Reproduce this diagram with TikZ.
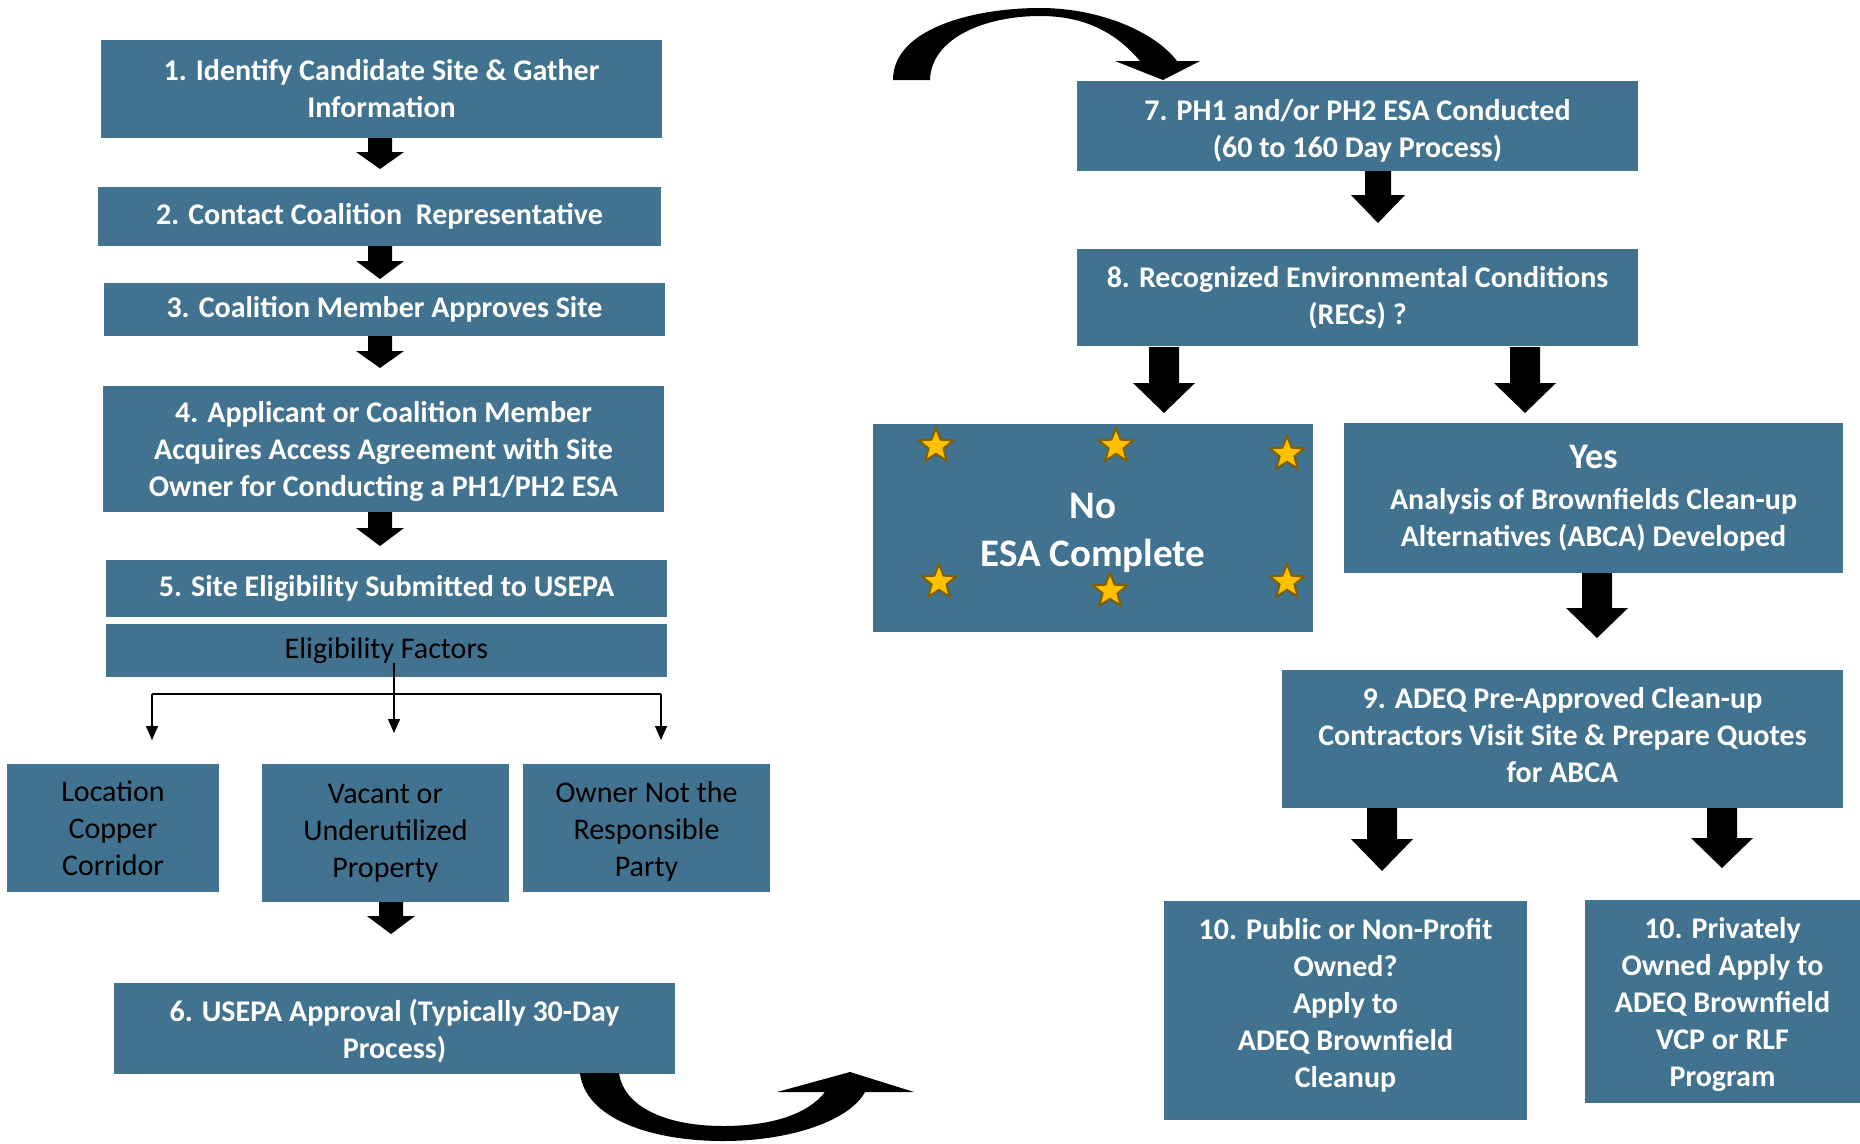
\documentclass[tikz,border=0pt]{standalone}
\usepackage{fontspec}
\setmainfont{Carlito}
\usetikzlibrary{shapes.geometric,arrows.meta}
\definecolor{boxblue}{HTML}{41728F}
\definecolor{stargold}{HTML}{FFC000}
\definecolor{starline}{HTML}{7F6000}
\newcommand\blkarrow[6]{%
  \fill[black] (#1-#4,#2) -- (#1+#4,#2) -- (#1+#4,#6) -- (#1+#5,#6) -- (#1,#3) -- (#1-#5,#6) -- (#1-#4,#6) -- cycle;}
\tikzset{
  box/.style={fill=boxblue, draw=none, inner sep=0pt, align=center, text=white,
    font=\fontsize{30}{37}\selectfont\bfseries},
  plainbox/.style={fill=boxblue, draw=none, inner sep=0pt, align=center, text=black,
    font=\fontsize{30}{37}\selectfont},
  staricon/.style={star, star points=5, star point ratio=2.3, minimum size=36pt,
    inner sep=0pt, fill=stargold, draw=starline, line width=2pt},
  thinarrow/.style={line width=1.4pt, -{Triangle[width=12pt,length=14pt]}},
}
\begin{document}
\begin{tikzpicture}[x=1pt,y=-1pt]
\useasboundingbox (0,0) rectangle (1860,1143);
% left column
\node[box, minimum width=561pt, minimum height=98pt] (b1) at (381.5,89) {1. Identify Candidate Site \& Gather\\Information};
\node[box, minimum width=563pt, minimum height=59pt] (b2) at (379.5,216.5) {2. Contact Coalition~ Representative};
\node[box, minimum width=561pt, minimum height=53pt] (b3) at (384.5,309.5) {3. Coalition Member Approves Site};
\node[box, minimum width=561pt, minimum height=126pt] (b4) at (383.5,449) {\rule{0pt}{27pt}4. Applicant or Coalition Member\\Acquires Access Agreement with Site\\Owner for Conducting a PH1/PH2 ESA};
\node[box, minimum width=561pt, minimum height=57pt] (b5) at (386.5,588.5) {5. Site Eligibility Submitted to USEPA};
\node[plainbox, minimum width=561pt, minimum height=53pt] (elig) at (386.5,650.5) {Eligibility Factors};
\node[plainbox, minimum width=212pt, minimum height=128pt] (loc) at (113,828) {Location\\Copper\\Corridor};
\node[plainbox, minimum width=247pt, minimum height=138pt] (vac) at (385.5,833) {Vacant or\\Underutilized\\Property};
\node[plainbox, minimum width=247pt, minimum height=128pt] (own) at (646.5,828) {\rule{0pt}{27pt}Owner Not the\\Responsible\\Party};
\node[box, minimum width=561pt, minimum height=91pt] (b6) at (394.5,1028.5) {\rule{0pt}{27pt}6. USEPA Approval (Typically 30-Day\\Process)};
% right column
\node[box, minimum width=561pt, minimum height=90pt] (b7) at (1357.5,126) {\rule{0pt}{30pt}7. PH1 and/or PH2 ESA Conducted\\(60 to 160 Day Process)};
\node[box, minimum width=561pt, minimum height=97pt] (b8) at (1357.5,297.5) {8. Recognized Environmental Conditions\\(RECs) ?};
\node[box, minimum width=440pt, minimum height=208pt, font=\fontsize{39}{48}\selectfont\bfseries] (no) at (1093,528) {\rule{0pt}{36pt}No\\ESA Complete};
\node[box, minimum width=499pt, minimum height=150pt] (yes) at (1593.5,498) {{\fontsize{36}{40}\selectfont Yes}\\[4pt]Analysis of Brownfields Clean-up\\Alternatives (ABCA) Developed};
\node[box, minimum width=561pt, minimum height=138pt] (b9) at (1562.5,739) {9. ADEQ Pre-Approved Clean-up\\Contractors Visit Site \& Prepare Quotes\\for ABCA\rule[-9pt]{0pt}{0pt}};
\node[box, minimum width=363pt, minimum height=219pt] (b10a) at (1345.5,1010.5) {10. Public or Non-Profit\\Owned?\\Apply to\\ADEQ Brownfield\\Cleanup\rule[-16pt]{0pt}{0pt}};
\node[box, minimum width=275pt, minimum height=203pt] (b10b) at (1722.5,1001.5) {\rule{0pt}{27pt}10. Privately\\Owned Apply to\\ADEQ Brownfield\\VCP or RLF\\Program};
% stars
\node[staricon] (st1) at (936,446) {};
\node[staricon] (st2) at (1116,446) {};
\node[staricon] (st3) at (1287,454) {};
\node[staricon] (st4) at (939,582) {};
\node[staricon] (st5) at (1110,591) {};
\node[staricon] (st6) at (1287,582) {};
% block arrows (left)
\blkarrow{380}{138}{169}{12}{24}{152}
\blkarrow{380}{246}{279}{12}{24}{261}
\blkarrow{380}{336}{368}{12}{24}{351}
\blkarrow{380}{512}{546}{12}{24}{528}
\blkarrow{391}{902}{934}{12}{24}{916}
% block arrows (right)
\blkarrow{1378}{171}{223}{13}{27}{195}
\blkarrow{1164}{347}{413}{15}{31}{383}
\blkarrow{1525}{347}{413}{15}{31}{383}
\blkarrow{1597}{573}{638}{15}{31}{608}
\blkarrow{1382}{808}{871}{15}{31}{839}
\blkarrow{1722}{808}{868}{15}{31}{838}
% eligibility branches
\coordinate (brS) at (394,663);
\coordinate (brM) at (394,733);
\coordinate (brL0) at (152,694);
\coordinate (brR0) at (661,694);
\coordinate (brL) at (152,740);
\coordinate (brR) at (661,740);
\draw[line width=1.4pt] (brL0) -- (brR0);
\draw[thinarrow] (brS) -- (brM);
\draw[thinarrow] (brL0) -- (brL);
\draw[thinarrow] (brR0) -- (brR);
% curved arrow top (to box 7)
\fill[black] (893,80) .. controls (893,28) and (975,8) .. (1040,8)
  .. controls (1100,8) and (1155,32) .. (1177,61)
  -- (1200,61) -- (1163,80) -- (1115,61) -- (1140,61)
  .. controls (1118,35) and (1088,16) .. (1040,16)
  .. controls (985,16) and (931,38) .. (930,80) -- cycle;
% curved arrow bottom (from box 6)
\fill[black] (580,1073) .. controls (585,1118) and (650,1141) .. (723,1141)
  .. controls (792,1141) and (850,1120) .. (865,1092)
  -- (914,1092) -- (850,1072) -- (777,1092) -- (825,1092)
  .. controls (808,1114) and (772,1126) .. (723,1126)
  .. controls (668,1126) and (624,1108) .. (619,1073) -- cycle;
\end{tikzpicture}
\end{document}
